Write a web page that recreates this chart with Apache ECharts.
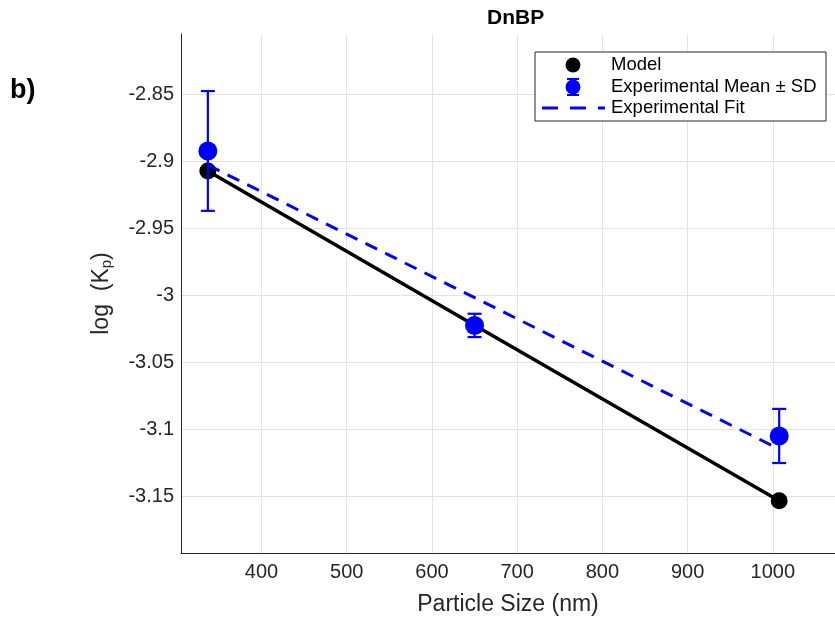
<!DOCTYPE html>
<html>
<head>
<meta charset="utf-8">
<script src="https://cdn.jsdelivr.net/npm/echarts@6/dist/echarts.min.js"></script>
<style>
html,body{margin:0;padding:0;background:#fff;}
#chart{width:835px;height:623px;}
</style>
</head>
<body>
<div id="chart"></div>
<script>
// ---- data ----
const titleText = 'DnBP';
const panelLabel = 'b)';
const xAxisTitle = 'Particle Size (nm)';
const sizes = [337, 650, 1007.5];
const modelValues = [-2.9075, -3.0225, -3.1535];
const expMean = [-2.8925, -3.0227, -3.1052];
const expSD = [0.0447, 0.0087, 0.0202];
const fitX = [337, 1007.5];
const fitY = [-2.903, -3.115];
const xTicks = [400, 500, 600, 700, 800, 900, 1000];
const yTicks = [-3.15, -3.1, -3.05, -3, -2.95, -2.9, -2.85];
const legendNames = ['Model', 'Experimental Mean \u00b1 SD', 'Experimental Fit'];

const FONT = '"Liberation Sans", Arial, Helvetica, sans-serif';
const BLUE = '#0000ff';

const chart = echarts.init(document.getElementById('chart'), null, {renderer: 'canvas'});

const modelData = sizes.map((x, i) => [x, modelValues[i]]);
const expData = sizes.map((x, i) => [x, expMean[i]]);
const errData = sizes.map((x, i) => [x, expMean[i] - expSD[i], expMean[i] + expSD[i]]);
const fitData = fitX.map((x, i) => [x, fitY[i]]);

// legend geometry
const LX = 535, LY = 52, LW = 291, LH = 69;
const rows = [65, 87, 108];

const option = {
  animation: false,
  backgroundColor: '#ffffff',
  title: {
    text: titleText,
    left: 482, top: 3,
    textStyle: {fontFamily: FONT, fontSize: 21, fontWeight: 'bold', color: '#000'}
  },
  grid: {left: 181, right: 0, top: 34, bottom: 70, containLabel: false},
  xAxis: {
    type: 'value',
    min: 305.5, max: 1073,
    name: xAxisTitle,
    nameLocation: 'middle',
    nameGap: 40,
    nameTextStyle: {fontFamily: FONT, fontSize: 23, color: '#262626'},
    axisLine: {show: true, lineStyle: {color: '#262626', width: 1}},
    axisTick: {show: false, customValues: xTicks},
    axisLabel: {customValues: xTicks, fontFamily: FONT, fontSize: 20, color: '#262626', margin: 9,
      formatter: v => String(Math.round(v))},
    splitLine: {show: true, lineStyle: {color: '#e3e3e3', width: 1}}
  },
  yAxis: {
    type: 'value',
    min: -3.19254, max: -2.80522,
    name: '{n|log  (K}{s|p}{n|)}',
    nameLocation: 'middle',
    nameGap: 67,
    nameRotate: 90,
    nameTextStyle: {
      fontFamily: FONT, fontSize: 23, color: '#262626',
      rich: {
        n: {fontFamily: FONT, fontSize: 23, color: '#262626'},
        s: {fontFamily: FONT, fontSize: 15, color: '#262626', verticalAlign: 'bottom', padding: [9, 0, 0, 0]}
      }
    },
    axisLine: {show: true, lineStyle: {color: '#262626', width: 1}},
    axisTick: {show: false, customValues: yTicks},
    axisLabel: {customValues: yTicks, fontFamily: FONT, fontSize: 20, color: '#262626', margin: 7,
      formatter: v => String(Math.round(v * 1000) / 1000)},
    splitLine: {show: true, lineStyle: {color: '#e3e3e3', width: 1}}
  },
  series: [
    {
      name: legendNames[0],
      type: 'line',
      data: modelData,
      symbol: 'circle',
      symbolSize: 17,
      lineStyle: {color: '#000', width: 3.5},
      itemStyle: {color: '#000', opacity: 1},
      z: 2
    },
    {
      name: legendNames[1] + ' err',
      type: 'custom',
      data: errData,
      z: 3,
      renderItem: function (params, api) {
        const x = api.value(0);
        const lo = api.coord([x, api.value(1)]);
        const hi = api.coord([x, api.value(2)]);
        const cw = 7;
        const st = {stroke: BLUE, lineWidth: 2.2};
        return {
          type: 'group',
          children: [
            {type: 'line', shape: {x1: lo[0], y1: lo[1], x2: hi[0], y2: hi[1]}, style: st},
            {type: 'line', shape: {x1: lo[0] - cw, y1: lo[1], x2: lo[0] + cw, y2: lo[1]}, style: st},
            {type: 'line', shape: {x1: hi[0] - cw, y1: hi[1], x2: hi[0] + cw, y2: hi[1]}, style: st}
          ]
        };
      }
    },
    {
      name: legendNames[1],
      type: 'scatter',
      data: expData,
      symbol: 'circle',
      symbolSize: 19,
      itemStyle: {color: BLUE, opacity: 1},
      z: 4
    },
    {
      name: legendNames[2],
      type: 'line',
      data: fitData,
      symbol: 'none',
      lineStyle: {color: BLUE, width: 3, type: [13, 9]},
      z: 5
    }
  ],
  graphic: [
    {type: 'text', left: 10, top: 77, style: {text: panelLabel, fontFamily: FONT, fontSize: 27, fontWeight: 'bold', fill: '#000'}},
    {type: 'rect', shape: {x: LX, y: LY, width: LW, height: LH}, style: {fill: '#fff', stroke: '#262626', lineWidth: 1}, z: 10},
    {type: 'circle', shape: {cx: 573, cy: rows[0], r: 7.5}, style: {fill: '#000'}, z: 11},
    {type: 'circle', shape: {cx: 573, cy: rows[1], r: 7.5}, style: {fill: BLUE}, z: 11},
    {type: 'line', shape: {x1: 573, y1: rows[1] - 8, x2: 573, y2: rows[1] + 8}, style: {stroke: BLUE, lineWidth: 2}, z: 11},
    {type: 'line', shape: {x1: 567, y1: rows[1] - 8, x2: 579, y2: rows[1] - 8}, style: {stroke: BLUE, lineWidth: 2}, z: 11},
    {type: 'line', shape: {x1: 567, y1: rows[1] + 8, x2: 579, y2: rows[1] + 8}, style: {stroke: BLUE, lineWidth: 2}, z: 11},
    {type: 'line', shape: {x1: 542, y1: rows[2], x2: 605, y2: rows[2]}, style: {stroke: BLUE, lineWidth: 3, lineDash: [16, 12]}, z: 11},
    {type: 'text', x: 611, y: rows[0], style: {text: legendNames[0], fontFamily: FONT, fontSize: 18.5, fill: '#000', verticalAlign: 'middle'}, z: 11},
    {type: 'text', x: 611, y: rows[1], style: {text: legendNames[1], fontFamily: FONT, fontSize: 18.5, fill: '#000', verticalAlign: 'middle'}, z: 11},
    {type: 'text', x: 611, y: rows[2], style: {text: legendNames[2], fontFamily: FONT, fontSize: 18.5, fill: '#000', verticalAlign: 'middle'}, z: 11}
  ]
};
chart.setOption(option);
</script>
</body>
</html>
